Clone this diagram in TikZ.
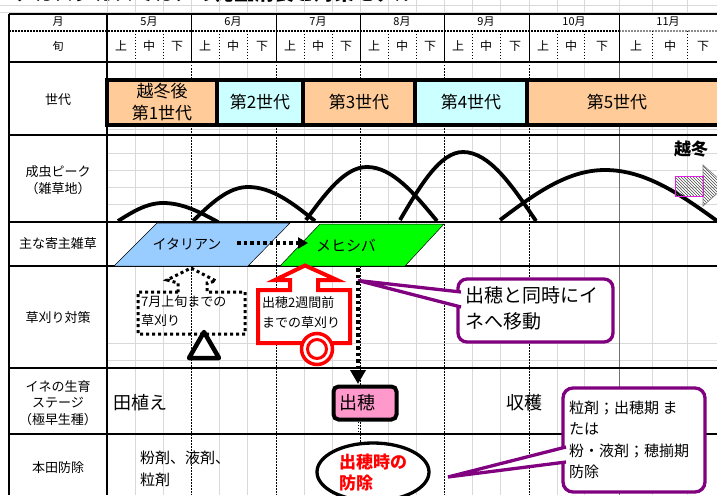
\documentclass[tikz,border=0pt]{standalone}
\usepackage{fontspec}
\setmainfont{Noto Sans CJK JP}
\usetikzlibrary{arrows.meta,patterns,shapes.geometric}
\definecolor{gridgray}{HTML}{D9D9D9}
\definecolor{orng}{HTML}{FFCC99}
\definecolor{cyn}{HTML}{CCFFFF}
\definecolor{ltblue}{HTML}{99CCFF}
\definecolor{grn}{HTML}{00FF00}
\definecolor{pnk}{HTML}{FF99CC}
\definecolor{purp}{HTML}{800080}
\definecolor{mag}{HTML}{E020E0}
\tikzset{
  gridc/.style={draw=gridgray, line width=0.7pt},
  mdash/.style={line width=0.6pt, dash pattern=on 1.5pt off 1.5pt},
  rowline/.style={line width=1.8pt},
  genbox/.style={draw=black, line width=3.5pt, minimum height=45pt, inner sep=0pt, align=center, font=\fontsize{17}{22}\selectfont},
  hump/.style={line width=3.8pt},
  lbl/.style={inner sep=0pt, align=center, font=\fontsize{13}{16.5}\selectfont},
  mlbl/.style={inner sep=0pt, font=\fontsize{11}{12}\selectfont},
  dlbl/.style={inner sep=0pt, font=\fontsize{12}{13}\selectfont},
  bigtxt/.style={inner sep=0pt, font=\fontsize{18}{20}\selectfont},
  calloutline/.style={draw=purp, line width=3.3pt, fill=white},
}
\begin{document}
\begin{tikzpicture}[x=1pt,y=-1pt]
\useasboundingbox (0,0) rectangle (717,495);
\clip (0,0) rectangle (717,495);
\fill[white] (0,0) rectangle (717,495);

% clipped title
\node[anchor=base west, inner sep=0pt, font=\bfseries\fontsize{20}{20}\selectfont] (title) at (14,0.5) {アカスジカスミカメの発生消長と対策モデル};

% spreadsheet grid
\draw[gridc] (0,5) -- (717,5);
\draw[gridc] (0,12) -- (717,12);
\foreach \x in {107,135,163,191,219,247,276,304,332,360,388,416,444,472,500,529,557,584,619,652,687}
  \draw[gridc] (\x,0) -- (\x,14);
\foreach \x in {135,163,219,247,304,332,388,416,472,500,557,584,652,687}
  \draw[gridc] (\x,62) -- (\x,495);
\foreach \y in {129,153,170,187,204,343,360}
  \draw[gridc] (107,\y) -- (717,\y);

% month boundaries in chart
\foreach \x in {191,276,360,444,529}
  \draw[mdash] (\x,62) -- (\x,495);
\draw[draw=black!55, line width=0.8pt] (619,62) -- (619,495);

% header lines
\draw[line width=1.2pt] (9,14) -- (717,14);
\draw[line width=1.4pt, dash pattern=on 1.5pt off 1.5pt] (9,31) -- (619,31);
\draw[line width=1.2pt, dash pattern=on 1.5pt off 1.5pt, black!45] (619,31) -- (717,31);
\foreach \x in {191,276,360,444,529,619}
  \draw[line width=0.9pt] (\x,14) -- (\x,62);
\foreach \x in {135,163,219,247,304,332,388,416,472,500,557,584,652,687}
  \draw[line width=0.5pt, dash pattern=on 1.5pt off 1.5pt] (\x,31) -- (\x,62);
\foreach \y in {62,135,222,266,368}
  \draw[rowline] (9,\y) -- (717,\y);
\draw[line width=1.2pt] (9,434) -- (717,434);
\draw[line width=1.2pt] (9,14) -- (9,495);
\draw[line width=1.8pt] (107,14) -- (107,495);

% header labels
\node[mlbl] (hm) at (58,22) {月};
\node[mlbl] (hd) at (58,46) {旬};
\node[mlbl] (m5) at (149,22) {5月};
\node[mlbl] (m6) at (233,22) {6月};
\node[mlbl] (m7) at (318,22) {7月};
\node[mlbl] (m8) at (402,22) {8月};
\node[mlbl] (m9) at (486,22) {9月};
\node[mlbl] (m10) at (574,22) {10月};
\node[mlbl] (m11) at (668,22) {11月};
\foreach \c/\t [count=\i] in {121/上,149/中,177/下,205/上,233/中,262/下,290/上,318/中,346/下,374/上,402/中,430/下,458/上,486/中,515/下,543/上,571/中,602/下,636/上,670/中,703/下}
  \node[dlbl] (dec\i) at (\c,46) {\t};

% left column labels
\node[lbl] (l1) at (58,100) {世代};
\node[lbl] (l2) at (58,180) {成虫ピーク\\（雑草地）};
\node[lbl] (l3) at (58,244) {主な寄主雑草};
\node[lbl] (l4) at (58,318) {草刈り対策};
\node[lbl] (l5) at (58,403) {イネの生育\\ステージ\\（極早生種）};
\node[lbl] (l6) at (58,468) {本田防除};

% generations
\node[genbox, fill=orng, minimum width=110pt] (g1) at (162,102.5) {越冬後\\第1世代};
\node[genbox, fill=cyn, minimum width=86pt] (g2) at (260,102.5) {第2世代};
\node[genbox, fill=orng, minimum width=112pt] (g3) at (359,102.5) {第3世代};
\node[genbox, fill=cyn, minimum width=112pt] (g4) at (471,102.5) {第4世代};
\node[genbox, fill=orng, minimum width=198pt] (g5) at (626,102.5) {};
\node[inner sep=0pt, font=\fontsize{17}{22}\selectfont] (g5t) at (617,102.5) {第5世代};

% adult peaks
\draw[hump] (118,221) .. controls (132.7,211.8) and (146.7,203) .. (163,203)
  .. controls (182.9,203) and (200.1,212.3) .. (218,222);
\draw[hump] (193,221) .. controls (210.9,203.6) and (228.1,187) .. (248,187)
  .. controls (272.3,187) and (293.2,203.6) .. (315,221);
\draw[hump] (306,220) .. controls (325.9,192.9) and (344.9,167) .. (367,167)
  .. controls (392.3,167) and (414.2,193.4) .. (437,221);
\draw[hump] (400,220) .. controls (420.5,185.2) and (440.2,152) .. (463,152)
  .. controls (489.4,152) and (512.2,185.7) .. (536,221);
\draw[hump] (500,220) .. controls (534.2,194.4) and (567,170) .. (605,170)
  .. controls (646.6,170) and (682.5,195.9) .. (720,223);

% overwintering arrow
\node[inner sep=0pt, font=\bfseries\fontsize{17}{20}\selectfont] (ettou) at (691,149) {越冬};
\draw[draw=black!50, line width=0.7pt, pattern=north west lines, pattern color=black!70] (703,165) -- (726,185.5) -- (703,206) -- cycle;
\draw[draw=mag, line width=0.8pt, pattern=north west lines, pattern color=black!70] (675,176) rectangle (703,196);

% host weeds
\filldraw[fill=ltblue, draw=black, line width=0.5pt] (157,223) -- (290,223) -- (248,266) -- (114,266) -- cycle;
\node[inner sep=0pt, font=\fontsize{14}{16}\selectfont] (ita) at (187,244) {イタリアン};
\filldraw[fill=grn, draw=black, line width=0.5pt] (320,224) -- (444,224) -- (405,266) -- (280,266) -- cycle;
\node[inner sep=0pt, font=\fontsize{15}{16}\selectfont] (mehi) at (346,246) {メヒシバ};
\coordinate (da1) at (237,243);
\coordinate (da2) at (308,243);
\draw[line width=3.5pt, dash pattern=on 3.5pt off 3pt, -{Triangle[length=10pt,width=11pt]}] (da1) -- (da2);

% mowing: dotted callout
\draw[line width=3pt, dash pattern=on 3pt off 3pt] (178,292) -- (138,292) -- (138,334) -- (245,334) -- (245,292) -- (207,292) -- (207,283) -- (216,281) -- (191,268) -- (167,280) -- (178,283) -- cycle;
\node[anchor=west, inner sep=0pt, align=left, font=\fontsize{13}{19}\selectfont] (t7) at (141,311.5) {7月上旬までの\\草刈り};
\draw[line width=4.5pt, fill=white, line join=round] (204,332) -- (219,358) -- (189,358) -- cycle;

% mowing: red callout
\draw[draw=red, line width=4pt, fill=white] (258,290) -- (290,290) -- (290,280) -- (275,280) -- (305,265.5) -- (337,280) -- (318,280) -- (318,290) -- (350,290) -- (350,343) -- (258,343) -- cycle;
\node[anchor=west, inner sep=0pt, align=left, font=\fontsize{13}{20}\selectfont] (t2w) at (262,313) {出穂2週間前\\までの草刈り};
\draw[draw=red, line width=3.5pt, fill=white] (317,349) circle (15.5);
\draw[draw=red, line width=3pt] (317,349) circle (9.5);

% purple callout 1
\draw[calloutline, rounded corners=9pt] (458,279) rectangle (613,342);
\filldraw[draw=purp, fill=white, line width=3.3pt, line join=miter] (461,292) -- (358,280.5) -- (461,307);
\node[anchor=west, inner sep=0pt, align=left, font=\fontsize{19}{26}\selectfont] (c1t) at (465,308.5) {出穂と同時にイ\\ネへ移動};

% migration arrow
\coordinate (dv1) at (358,268);
\coordinate (dv2) at (358,384);
\draw[line width=3.5pt, dash pattern=on 3.5pt off 3pt, -{Triangle[length=14pt,width=15pt]}] (dv1) -- (dv2);

% rice stage
\node[bigtxt] (taue) at (140,403) {田植え};
\node[draw=black, fill=pnk, line width=4pt, rounded corners=5pt, minimum width=63pt, minimum height=33pt, inner sep=0pt] (hb) at (365,403) {};
\node[bigtxt] (hbt) at (357,403) {出穂};
\draw[line width=0.6pt, dash pattern=on 1.5pt off 1.5pt] (hb.south) ++(-7,0) -- (358,434);
\node[bigtxt] (shk) at (524,403) {収穫};

% control
\node[anchor=west, inner sep=0pt, align=left, font=\fontsize{15}{22}\selectfont] (fun) at (140,469) {粉剤、液剤、\\粒剤};
\node[draw=black, ellipse, line width=3.3pt, fill=white, minimum width=112pt, minimum height=58pt, inner sep=0pt] (ell) at (373,472) {};
\node[anchor=west, inner sep=0pt, align=left, text=red, font=\bfseries\fontsize{17}{21}\selectfont] (ellt) at (339,472.5) {出穂時の\\防除};

% purple callout 2
\draw[calloutline, rounded corners=10pt] (563,388) rectangle (705,492);
\filldraw[draw=purp, fill=white, line width=3.3pt, line join=miter] (566,447) -- (448,477) -- (566,462);
\node[anchor=west, inner sep=0pt, align=left, font=\fontsize{15}{21.5}\selectfont] (c2t) at (569,440) {粒剤；出穂期 ま\\たは\\粉・液剤；穂揃期\\防除};
\end{tikzpicture}
\end{document}
